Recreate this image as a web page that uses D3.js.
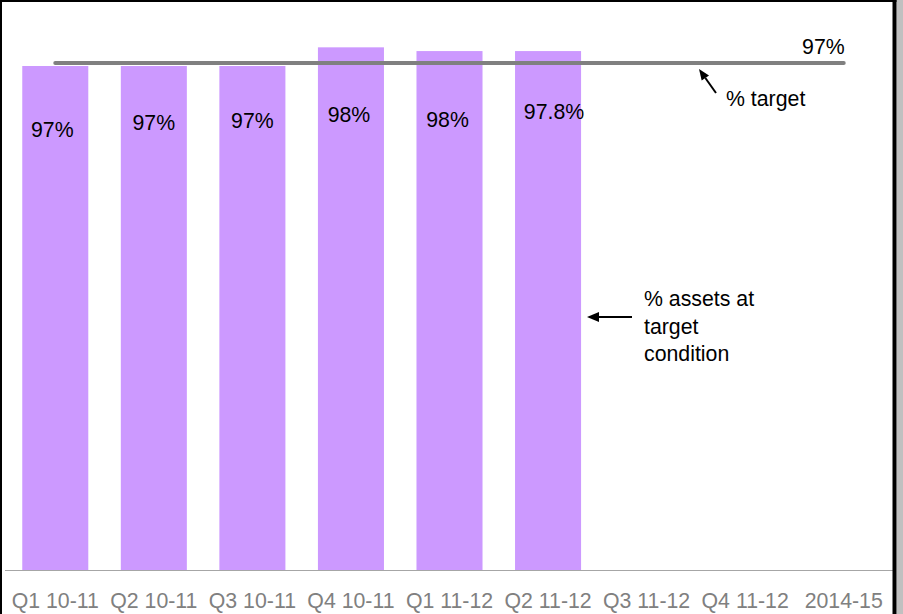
<!DOCTYPE html>
<html>
<head>
<meta charset="utf-8">
<script src="https://cdn.jsdelivr.net/npm/d3@7"></script>
<style>
  html, body { margin: 0; padding: 0; background: #fff; }
  svg { display: block; }
  text { font-family: Arial, "Liberation Sans", sans-serif; }
</style>
</head>
<body>
<svg id="chart" width="903" height="614"></svg>
<script>
// Quarterly share of assets at target condition
const categories = ["Q1 10-11", "Q2 10-11", "Q3 10-11", "Q4 10-11", "Q1 11-12", "Q2 11-12", "Q3 11-12", "Q4 11-12", "2014-15"];
const assetValues = [97, 97, 97, 98, 97.8, 97.8];           // % assets at target condition
const assetLabels = ["97%", "97%", "97%", "98%", "98%", "97.8%"];
const targetValue = 97;                                     // % target
const targetLabel = "97%";
const yDomain = [70, 100];

// hand-placed offsets for the value labels inside the bars
const labelShift = [[-3, 0], [0, -7], [0, -9], [-2, 4], [-2, 5], [6, -3]];

const W = 903, H = 614;
const svg = d3.select("#chart");

const x = d3.scaleBand()
  .domain(categories)
  .range([6, 893])
  .paddingInner(0.33)
  .paddingOuter(0.165);

const y = d3.scaleLinear().domain(yDomain).range([570, 10]);

const barColor = "#cc99ff";
const fontSize = "21.3px";

// bars
const bars = categories.slice(0, assetValues.length).map((c, i) => ({ c, i, v: assetValues[i], label: assetLabels[i] }));
svg.append("g").selectAll("rect")
  .data(bars)
  .join("rect")
  .attr("x", d => x(d.c))
  .attr("y", d => y(d.v))
  .attr("width", x.bandwidth())
  .attr("height", d => y(yDomain[0]) - y(d.v))
  .attr("fill", barColor);

// value labels inside the bars
svg.append("g").selectAll("text")
  .data(bars)
  .join("text")
  .attr("x", d => x(d.c) + x.bandwidth() / 2 + labelShift[d.i][0])
  .attr("y", d => y(d.v) + 71 + labelShift[d.i][1])
  .attr("text-anchor", "middle")
  .attr("font-size", fontSize)
  .attr("fill", "#000")
  .text(d => d.label);

// category axis
const xAxis = d3.axisBottom(x).tickSize(0).tickPadding(0);
const gx = svg.append("g")
  .attr("transform", `translate(0,${y(yDomain[0])})`)
  .call(xAxis);
gx.select(".domain").attr("stroke", "#a6a6a6").attr("stroke-width", 1)
  .attr("d", `M5,0.5H893`);
gx.selectAll("text")
  .attr("font-size", fontSize)
  .attr("font-family", "Arial, 'Liberation Sans', sans-serif")
  .attr("fill", "#808080")
  .attr("dy", null)
  .attr("y", 38);

// target line
const x0 = x(categories[0]) + x.bandwidth() / 2;
const x1 = x(categories[categories.length - 1]) + x.bandwidth() / 2;
const targetLine = d3.line().x(d => d[0]).y(d => d[1]);
svg.append("path")
  .attr("d", targetLine([[x0, y(targetValue) - 3], [x1, y(targetValue) - 3]]))
  .attr("stroke", "#808080")
  .attr("stroke-width", 4)
  .attr("stroke-linecap", "round")
  .attr("fill", "none");

svg.append("text")
  .attr("x", x1 + 1)
  .attr("y", y(targetValue) - 12)
  .attr("text-anchor", "end")
  .attr("font-size", fontSize)
  .attr("fill", "#000")
  .text(targetLabel);

// annotation arrows
function arrow(x1a, y1a, x2a, y2a, headLen, headW) {
  const ang = Math.atan2(y2a - y1a, x2a - x1a);
  const bx = x2a - headLen * Math.cos(ang), by = y2a - headLen * Math.sin(ang);
  const nx = -Math.sin(ang) * headW / 2, ny = Math.cos(ang) * headW / 2;
  svg.append("line")
    .attr("x1", x1a).attr("y1", y1a).attr("x2", bx).attr("y2", by)
    .attr("stroke", "#000").attr("stroke-width", 2);
  svg.append("path")
    .attr("d", `M${x2a},${y2a}L${bx + nx},${by + ny}L${bx - nx},${by - ny}Z`)
    .attr("fill", "#000");
}

arrow(716, 93, 699, 69, 11, 9);
svg.append("text")
  .attr("x", 726).attr("y", 106)
  .attr("font-size", fontSize)
  .attr("fill", "#000")
  .text("% target");

arrow(632, 317, 587, 317, 12, 10);
const note = svg.append("text")
  .attr("x", 644).attr("y", 306)
  .attr("font-size", fontSize)
  .attr("fill", "#000");
["% assets at", "target", "condition"].forEach((t, i) => {
  note.append("tspan").attr("x", 644).attr("y", 306 + i * 27.5).text(t);
});

// frame
svg.append("rect").attr("x", 896.5).attr("y", 0).attr("width", W - 896.5).attr("height", H).attr("fill", "#c0c0c0");
svg.append("rect").attr("x", 0).attr("y", 0).attr("width", 896.5).attr("height", 2).attr("fill", "#000");
svg.append("rect").attr("x", 0).attr("y", 0).attr("width", 2).attr("height", H).attr("fill", "#000");
svg.append("rect").attr("x", 892.5).attr("y", 0).attr("width", 4).attr("height", H).attr("fill", "#000");
</script>
</body>
</html>
